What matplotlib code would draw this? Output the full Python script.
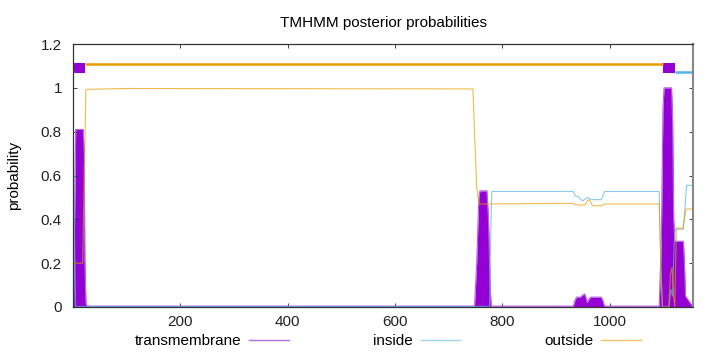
import matplotlib
matplotlib.use("Agg")
import matplotlib.pyplot as plt
from matplotlib.lines import Line2D
from matplotlib.ticker import FuncFormatter

plt.rcParams['font.family'] = ['Liberation Sans', 'DejaVu Sans']

seq_len = 1155

# posterior probabilities (residue, value)
tm_pos = [1, 3, 5, 19, 21, 22, 24, 26, 748, 752, 756, 758, 771, 774, 777, 779,
          932, 935, 938, 945, 950, 953, 956, 958, 961, 964, 984, 987, 990,
          1092, 1096, 1099, 1101, 1115, 1117, 1119, 1121, 1137, 1139, 1141, 1155]
tm_val = [0.0, 0.4, 0.81, 0.81, 0.7, 0.22, 0.02, 0.004, 0.004, 0.2, 0.5, 0.53, 0.53, 0.4, 0.1, 0.004,
          0.004, 0.03, 0.045, 0.045, 0.055, 0.06, 0.04, 0.02, 0.035, 0.045, 0.045, 0.03, 0.004,
          0.004, 0.3, 0.9, 1.0, 1.0, 0.85, 0.4, 0.3, 0.3, 0.2, 0.05, 0.0]

in_pos = [1, 3, 5, 776, 778, 780, 932, 936, 941, 946, 950, 953, 958, 962, 966, 984, 988, 990,
          1092, 1095, 1098, 1110, 1114, 1117, 1120, 1122, 1137, 1140, 1143, 1155]
in_val = [0.8, 0.3, 0.003, 0.003, 0.3, 0.527, 0.527, 0.505, 0.505, 0.49, 0.485, 0.49, 0.5, 0.495,
          0.49, 0.49, 0.51, 0.527, 0.527, 0.2, 0.0, 0.0, 0.08, 0.05, 0.3, 0.355, 0.355, 0.45, 0.555, 0.555]

out_pos = [1, 18, 21, 24, 26, 100, 745, 748, 752, 756, 758, 932, 935, 940, 950, 955, 958, 962,
           965, 968, 985, 990, 1092, 1095, 1098, 1110, 1113, 1116, 1119, 1121, 1124, 1136, 1139,
           1142, 1155]
out_val = [0.2, 0.2, 0.6, 0.99, 0.993, 0.997, 0.995, 0.8, 0.55, 0.475, 0.47, 0.473, 0.466, 0.466,
           0.465, 0.468, 0.485, 0.49, 0.475, 0.462, 0.462, 0.47, 0.47, 0.2, 0.0, 0.0, 0.15, 0.18,
           0.05, 0.0, 0.36, 0.36, 0.4, 0.447, 0.447]

# predicted topology
topo_start = [0, 1, 22, 1099, 1121]
topo_end = [1, 22, 1099, 1121, 1155]
topo_kind = ['inside', 'TMhelix', 'outside', 'TMhelix', 'inside']

purple = '#9400D3'
blue = '#56B4E9'
orange = '#E69F00'

fig = plt.figure(figsize=(7.2, 3.52), dpi=100)
ax = fig.add_axes([73 / 720, 45 / 352, 620 / 720, 263 / 352])

ax.fill_between(tm_pos, tm_val, 0, color=purple, lw=0)
ax.plot(tm_pos, tm_val, color='#b861e6', lw=0.8)
ax.plot(in_pos, in_val, color=blue, lw=0.8, alpha=0.7)
ax.plot(out_pos, out_val, color=orange, lw=0.8, alpha=0.7)

# topology bars on top
for s, e, k in zip(topo_start, topo_end, topo_kind):
    if k == 'TMhelix':
        ax.fill_between([s, e], 1.068, 1.114, color=purple, lw=0)
    elif k == 'inside':
        ax.plot([s, e], [1.072, 1.072], color=blue, lw=1.8, solid_capstyle='butt')
    else:
        ax.plot([s, e], [1.11, 1.11], color=orange, lw=1.8, solid_capstyle='butt')

ax.set_xlim(0, seq_len)
ax.set_ylim(0, 1.2)
ax.set_xticks([200, 400, 600, 800, 1000])
ax.set_yticks([0, 0.2, 0.4, 0.6, 0.8, 1.0, 1.2])
ax.yaxis.set_major_formatter(FuncFormatter(lambda v, p: '%g' % round(v, 2)))
ax.tick_params(direction='in', length=3, width=0.6, top=True, right=True,
               labelsize=11, colors='#222222', pad=6)
ax.tick_params(axis='y', pad=8)
for sp in ax.spines.values():
    sp.set_linewidth(0.9)
    sp.set_color('#333333')
ax.spines['right'].set_color('#888888')
ax.spines['right'].set_linewidth(1.5)

ax.set_title('TMHMM posterior probabilities', fontsize=11, pad=12)
ax.set_ylabel('probability', fontsize=11)
ax.yaxis.set_label_coords(-0.083, 0.5)

handles = [Line2D([], [], color='#b06fe0', lw=1),
           Line2D([], [], color='#9fd2ee', lw=1),
           Line2D([], [], color='#f0c36a', lw=1)]
fig.legend(handles, ['transmembrane', 'inside', 'outside'], loc='center',
           bbox_to_anchor=(388 / 720, 1 - 341 / 352), ncol=3, frameon=False,
           markerfirst=False, fontsize=11, handlelength=2.6, handletextpad=0.5,
           columnspacing=5.5, borderpad=0)

fig.savefig('out.png', dpi=100)
